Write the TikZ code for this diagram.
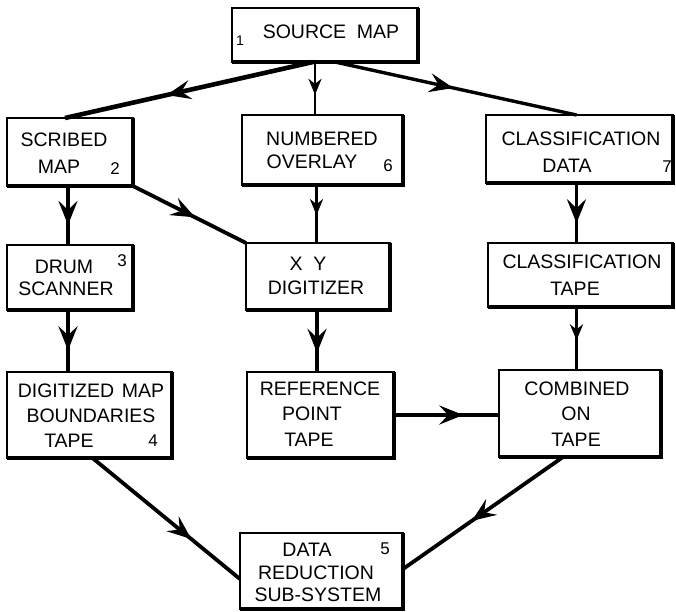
\documentclass[tikz,border=0pt]{standalone}
\usepackage{fontspec}
\setmainfont{Liberation Sans}
\usetikzlibrary{arrows.meta,decorations.markings}

\begin{document}
\begin{tikzpicture}[x=1pt,y=-1pt,
  box/.style={draw, line width=1.6pt, inner sep=0pt, outer sep=0pt},
  txt/.style={inner sep=0pt, anchor=center, font=\fontsize{19.5}{24}\selectfont},
  digit/.style={inner sep=0pt, anchor=center, font=\fontsize{17}{20}\selectfont},
  conn/.style={line width=3.8pt},
  tipat/.style={postaction={decorate}, decoration={markings,
      mark=at position #1 with {\arrow{Stealth[length=24pt,width=19pt,inset=9pt]}}}},
  smalltipat/.style={postaction={decorate}, decoration={markings,
      mark=at position #1 with {\arrow{Stealth[length=16pt,width=13pt,inset=5pt]}}}}
]
\useasboundingbox (0,0) rectangle (676,611);

% boxes
\node[box, minimum width=186pt, minimum height=54pt] (src)  at (325,35)    {};
\node[box, minimum width=126pt, minimum height=68pt] (scr)  at (70,152)    {};
\node[box, minimum width=161pt, minimum height=70pt] (ovl)  at (322.5,150) {};
\node[box, minimum width=187pt, minimum height=68pt] (cd)   at (579.5,149) {};
\node[box, minimum width=126pt, minimum height=65pt] (drum) at (70,277.5)  {};
\node[box, minimum width=144pt, minimum height=67pt] (xy)   at (318,276.5) {};
\node[box, minimum width=185pt, minimum height=64pt] (ct)   at (580.5,275) {};
\node[box, minimum width=165pt, minimum height=86pt] (dig)  at (89.5,415)  {};
\node[box, minimum width=147pt, minimum height=86pt] (ref)  at (320.5,415) {};
\node[box, minimum width=162pt, minimum height=87pt] (comb) at (580,413.5) {};
\node[box, minimum width=163pt, minimum height=76pt] (dr)   at (321.5,571) {};

% heavier right and bottom edges of every box
\foreach \n in {src,scr,ovl,cd,drum,xy,ct,dig,ref,comb,dr}
  \draw[line width=3.2pt] (\n.north east) -- (\n.south east) -- (\n.south west);

% box texts
\node[txt] (t1)  at (331,32)  {SOURCE\hspace{0.55em}MAP};
\node[digit, font=\fontsize{14}{16}\selectfont] (n1) at (240,41) {1};

\node[txt] (t2a) at (64,140)  {SCRIBED};
\node[txt] (t2b) at (59,167)  {MAP};
\node[digit] (n2) at (115,169) {2};

\node[txt] (t6a) at (322,139) {NUMBERED};
\node[txt] (t6b) at (312,162) {OVERLAY};
\node[digit] (n6) at (388,166) {6};

\node[txt] (t7a) at (581,139) {CLASSIFICATION};
\node[txt] (t7b) at (567,166) {DATA};
\node[digit] (n7) at (667,167) {7};

\node[txt] (t3a) at (64,267)  {DRUM};
\node[txt] (t3b) at (66,289)  {SCANNER};
\node[digit] (n3) at (122,261) {3};

\node[txt] (txa) at (308,264) {X\hspace{0.55em}Y};
\node[txt] (txb) at (316,288) {DIGITIZER};

\node[txt] (tca) at (582,262) {CLASSIFICATION};
\node[txt] (tcb) at (575,289) {TAPE};

\node[txt] (t4a) at (91,391)  {DIGITIZED\hspace{0.4em}MAP};
\node[txt] (t4b) at (91,416)  {BOUNDARIES};
\node[txt] (t4c) at (69,441)  {TAPE};
\node[digit] (n4) at (153,441) {4};

\node[txt] (tra) at (320,389) {REFERENCE};
\node[txt] (trb) at (312,414) {POINT};
\node[txt] (trc) at (309,440) {TAPE};

\node[txt] (tba) at (577,389) {COMBINED};
\node[txt] (tbb) at (576,414) {ON};
\node[txt] (tbc) at (576,440) {TAPE};

\node[txt] (t5a) at (307,550) {DATA};
\node[txt] (t5b) at (316,573) {REDUCTION};
\node[txt] (t5c) at (318,595) {SUB-SYSTEM};
\node[digit] (n5) at (385,549) {5};

% connector end points on the box edges
\coordinate (s1) at ([xshift=-12pt]src.south);
\coordinate (s2) at ([xshift=-10pt]src.south);
\coordinate (s3) at ([xshift=10pt]src.south);
\coordinate (e1) at ([xshift=-5pt]scr.north);
\coordinate (e3) at ([xshift=-3pt]cd.north);
\coordinate (v1) at ([xshift=-2pt]scr.south);
\coordinate (v2) at ([xshift=-2pt]drum.south);
\coordinate (v3) at ([xshift=-6pt]ovl.south);
\coordinate (v4) at ([xshift=-1pt]xy.south);
\coordinate (v5) at ([xshift=-3pt]cd.south);
\coordinate (v6) at ([xshift=-4pt]ct.south);
\coordinate (d1) at ([xshift=3pt]dig.south);
\coordinate (d2) at ([yshift=-8pt]dr.west);
\coordinate (c1) at ([xshift=-17pt]comb.south);
\coordinate (c2) at ([yshift=2pt]dr.east);

% connectors
\draw[conn, line width=4.6pt, tipat=0.59] (s1) -- (e1);
\draw[conn, line width=2.6pt, smalltipat=0.62] (s2) -- (s2 |- ovl.north);
\draw[conn, line width=3.4pt, tipat=0.49] (s3) -- (e3);

\draw[conn, tipat=0.66] (v1) -- (v1 |- drum.north);
\draw[conn, tipat=0.55] (scr.south east) -- (xy.north west);
\draw[conn, smalltipat=0.52] (v3) -- (v3 |- xy.north);
\draw[conn, tipat=0.67] (v5) -- (v5 |- ct.north);

\draw[conn, tipat=0.65] (v2) -- (v2 |- dig.north);
\draw[conn, tipat=0.69] (v4) -- (v4 |- ref.north);
\draw[conn, smalltipat=0.53] (v6) -- (v6 |- comb.north);

\draw[conn, tipat=0.66] (ref.east) -- (ref.east -| comb.west);

\draw[conn, tipat=0.67] (d1) -- (d2);
\draw[conn, tipat=0.57] (c1) -- (c2);
\end{tikzpicture}
\end{document}
